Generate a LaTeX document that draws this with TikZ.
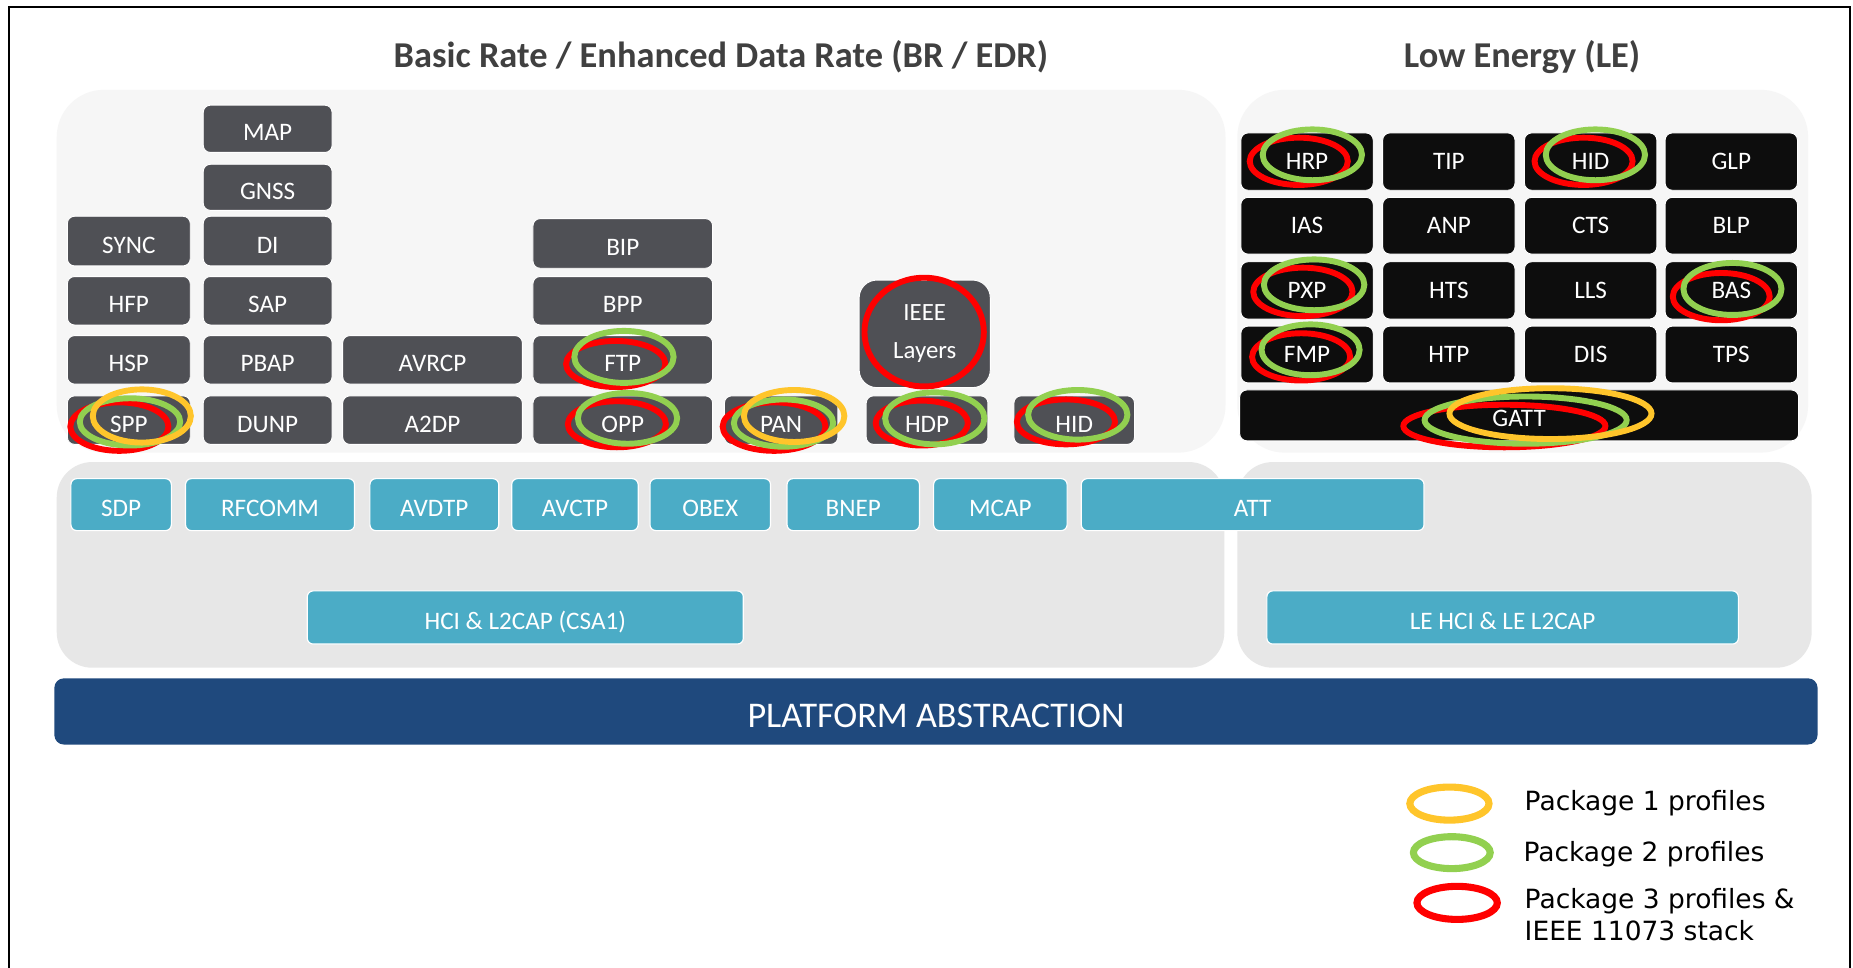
\documentclass[tikz,border=0pt]{standalone}
\usepackage{fontspec}
\setmainfont{Carlito}
\newfontfamily\legfont{DejaVu Sans}
\definecolor{panelA}{HTML}{F6F6F6}
\definecolor{panelB}{HTML}{E7E7E7}
\definecolor{boxgray}{HTML}{4F5055}
\definecolor{boxblack}{HTML}{0D0D0D}
\definecolor{boxcyan}{HTML}{4BACC6}
\definecolor{platblue}{HTML}{1F497D}
\definecolor{titlegray}{HTML}{404040}
\definecolor{ringY}{HTML}{FFC52B}
\definecolor{ringG}{HTML}{92D050}
\definecolor{ringR}{HTML}{FF0000}
\newcommand\lblfont{\fontsize{21.3}{25}\selectfont}
\newcommand\placebox[7]{\node[#1, inner sep=0pt, minimum width={#5-#3}, minimum height={#6-#4}] (#2) at ({(#3+#5)/2},{(#4+#6)/2}) {#7};}
\newcommand\pkgring[5]{\draw[#1] (#2,#3) ellipse [x radius=#4pt, y radius=#5pt];}
\tikzset{
  lbl/.style={text=white, font=\lblfont, text height=20.5pt, text depth=0pt},
  dbox/.style={fill=boxgray, draw=white, line width=0.8pt, rounded corners=6pt, lbl},
  lbox/.style={fill=boxblack, draw=white, line width=0.8pt, rounded corners=6pt, text=white, font=\lblfont, text height=14pt, text depth=0pt},
  cbox/.style={fill=boxcyan, draw=white, line width=1pt, rounded corners=5pt, lbl},
  upanel/.style={fill=panelA, draw=none, rounded corners=40pt},
  lpanel/.style={fill=panelB, draw=none, rounded corners=30pt},
  ry/.style={draw=ringY, line width=5pt},
  rg/.style={draw=ringG, line width=5pt},
  rr/.style={draw=ringR, line width=5pt},
  ttl/.style={font=\bfseries\fontsize{30.8}{36}\selectfont, text=titlegray},
  legtext/.style={font=\legfont\fontsize{22.4}{27}\selectfont, text=black, anchor=base west, align=left, inner sep=0pt},
}
\begin{document}
\begin{tikzpicture}[x=1pt,y=-1pt]
\useasboundingbox (0,0) rectangle (1568,819);
\fill[white] (0,0) rectangle (1568,819);
% frame
\draw[black, line width=1.3pt] (7.5,819) -- (7.5,6) -- (1565.5,6) -- (1565.5,819);
% titles
\node[ttl] (tbr) at (610,48) {Basic Rate / Enhanced Data Rate (BR / EDR)};
\node[ttl] (tle) at (1288,48) {Low Energy (LE)};
% panels
\placebox{upanel}{pbrU}{48}{76}{1037}{383}{}
\placebox{upanel}{pleU}{1047}{76}{1530}{383}{}
\placebox{lpanel}{pbrL}{48}{391}{1036}{565}{}
\placebox{lpanel}{pleL}{1047}{391}{1533}{565}{}
\placebox{fill=platblue, rounded corners=8pt, text=white, font=\fontsize{30.6}{36}\selectfont, text height=28pt, text depth=0pt}{plat}{46}{574}{1538}{630}{PLATFORM ABSTRACTION}
% BR/EDR profiles
\placebox{dbox}{sync}{57}{183}{161}{225}{SYNC}
\placebox{dbox}{hfp}{57}{234}{161}{275}{HFP}
\placebox{dbox}{hsp}{57}{284}{161}{325}{HSP}
\placebox{dbox}{spp}{57}{335}{161}{376}{SPP}
\placebox{dbox}{map}{172}{89}{281}{129}{MAP}
\placebox{dbox}{gnss}{172}{139}{281}{178}{GNSS}
\placebox{dbox}{di}{172}{183}{281}{225}{DI}
\placebox{dbox}{sap}{172}{234}{281}{275}{SAP}
\placebox{dbox}{pbap}{172}{284}{281}{325}{PBAP}
\placebox{dbox}{dunp}{172}{335}{281}{376}{DUNP}
\placebox{dbox}{avrcp}{290}{284}{442}{325}{AVRCP}
\placebox{dbox}{atdp}{290}{335}{442}{376}{A2DP}
\placebox{dbox}{bip}{451}{185}{603}{227}{BIP}
\placebox{dbox}{bpp}{451}{234}{603}{275}{BPP}
\placebox{dbox}{ftp}{451}{284}{603}{325}{FTP}
\placebox{dbox}{opp}{451}{335}{603}{376}{OPP}
\placebox{dbox}{pan}{613}{335}{709}{376}{PAN}
\placebox{dbox, rounded corners=15pt, align=center, font=\fontsize{21}{32}\selectfont, text height=, text depth=}{ieee}{727}{237}{838}{328}{IEEE\\Layers}
\placebox{dbox}{hdp}{733}{335}{836}{376}{HDP}
\placebox{dbox}{hidbr}{858}{335}{960}{376}{HID}
% LE profiles
\placebox{lbox}{hrp}{1050}{112.5}{1162}{161}{HRP}
\placebox{lbox}{tip}{1170}{112.5}{1282}{161}{TIP}
\placebox{lbox}{hidle}{1290}{112.5}{1402}{161}{HID}
\placebox{lbox}{glp}{1409}{112.5}{1521}{161}{GLP}
\placebox{lbox}{ias}{1050}{167}{1162}{215}{IAS}
\placebox{lbox}{anp}{1170}{167}{1282}{215}{ANP}
\placebox{lbox}{cts}{1290}{167}{1402}{215}{CTS}
\placebox{lbox}{blp}{1409}{167}{1521}{215}{BLP}
\placebox{lbox}{pxp}{1050}{221.5}{1162}{270}{PXP}
\placebox{lbox}{hts}{1170}{221.5}{1282}{270}{HTS}
\placebox{lbox}{lls}{1290}{221.5}{1402}{270}{LLS}
\placebox{lbox}{bas}{1409}{221.5}{1521}{270}{BAS}
\placebox{lbox}{fmp}{1050}{276}{1162}{324}{FMP}
\placebox{lbox}{htp}{1170}{276}{1282}{324}{HTP}
\placebox{lbox}{dis}{1290}{276}{1402}{324}{DIS}
\placebox{lbox}{tps}{1409}{276}{1521}{324}{TPS}
\placebox{lbox, text height=18pt}{gatt}{1049}{330}{1522}{373}{GATT}
% protocols
\placebox{cbox}{sdp}{60}{405}{145}{449}{SDP}
\placebox{cbox}{rfcomm}{157}{405}{300}{449}{RFCOMM}
\placebox{cbox}{avdtp}{313}{405}{422}{449}{AVDTP}
\placebox{cbox}{avctp}{433}{405}{540}{449}{AVCTP}
\placebox{cbox}{obex}{550}{405}{652}{449}{OBEX}
\placebox{cbox}{bnep}{666}{405}{778}{449}{BNEP}
\placebox{cbox}{mcap}{790}{405}{903}{449}{MCAP}
\placebox{cbox}{att}{915}{405}{1205}{449}{ATT}
\placebox{cbox}{hci}{260}{500}{629}{545}{HCI \& L2CAP (CSA1)}
\placebox{cbox}{lehci}{1072}{500}{1471}{545}{LE HCI \& LE L2CAP}
% package rings
\pkgring{rr}{101}{361}{41.5}{20.5}
\pkgring{rg}{110}{357}{42.5}{20}
\pkgring{ry}{120}{352}{41.5}{22.5}
\pkgring{rr}{521}{308}{42}{19.5}
\pkgring{rg}{528}{302}{42}{22}
\pkgring{rr}{522}{359}{41.5}{19.5}
\pkgring{rg}{531}{354}{42}{21.5}
\pkgring{rr}{655}{361}{43.5}{20.5}
\pkgring{rg}{663}{358}{42}{20}
\pkgring{ry}{672}{352}{42.5}{22}
\pkgring{rr}{782}{281}{50.5}{46}
\pkgring{rr}{780}{358}{39}{19}
\pkgring{rg}{791}{354}{42}{22}
\pkgring{rr}{902}{357}{41.5}{19}
\pkgring{rg}{912}{351}{42}{21}
\pkgring{rr}{1099}{136.5}{41.5}{20}
\pkgring{rg}{1110.5}{131}{42}{21.5}
\pkgring{rr}{1340}{136.5}{41.5}{20}
\pkgring{rg}{1350}{131}{42}{21.5}
\pkgring{rr}{1102.5}{247}{42}{20.5}
\pkgring{rg}{1112}{241}{42.5}{21.5}
\pkgring{rr}{1456.5}{251}{41}{20}
\pkgring{rg}{1466}{244.5}{41.5}{22}
\pkgring{rr}{1101}{302}{41.5}{20}
\pkgring{rg}{1109}{296}{41.5}{21.5}
\pkgring{rr}{1273}{360.5}{85.5}{18}
\pkgring{rg}{1291}{355.5}{85.5}{20}
\pkgring{ry}{1312}{350}{85.5}{21.5}
% legend
\pkgring{ry, line width=6pt}{1226.5}{680}{33.5}{14}
\pkgring{rg, line width=6pt}{1228.5}{721.5}{32.5}{13.5}
\pkgring{rr, line width=6pt}{1233}{764}{34}{14}
\node[legtext] (leg1) at (1290,685.5) {Package 1 profiles};
\node[legtext] (leg2) at (1289,728.6) {Package 2 profiles};
\node[legtext] (leg3) at (1290,796) {Package 3 profiles \&\\IEEE 11073 stack};
\end{tikzpicture}
\end{document}
